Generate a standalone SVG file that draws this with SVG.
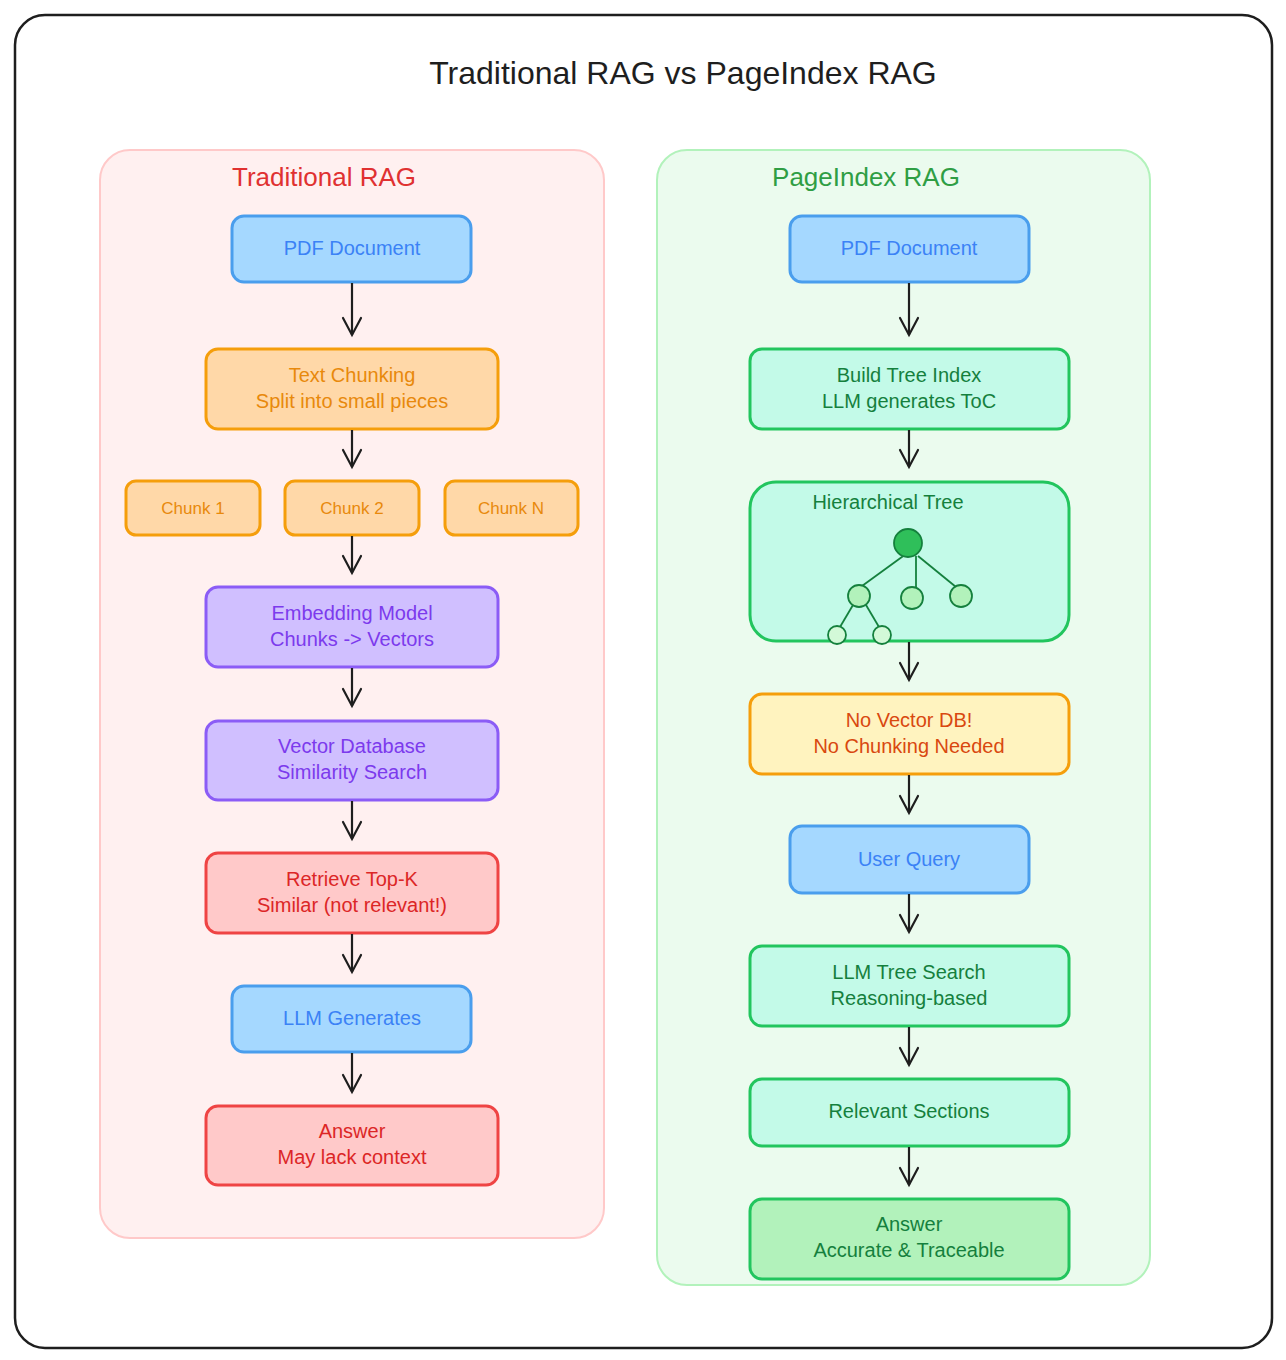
<svg xmlns="http://www.w3.org/2000/svg" width="1286" height="1360" viewBox="0 0 1286 1360">
<defs>
<style>
text{font-family:"Liberation Sans",Arial,sans-serif;text-anchor:middle;font-size:20px}
.n rect{stroke-width:3}
.blue rect{fill:#a5d8ff;stroke:#4a9eed}.blue text{fill:#3b82f6}
.org rect{fill:#ffd8a8;stroke:#f59e0b}.org text{fill:#e8890c}
.pur rect{fill:#d0bfff;stroke:#8b5cf6}.pur text{fill:#7c3aed}
.red rect{fill:#ffc9c9;stroke:#ef4444}.red text{fill:#dc2626}
.grn rect{fill:#c3fae8;stroke:#22c55e}.grn text{fill:#15803d}
.yel rect{fill:#fff3bf;stroke:#f59e0b}.yel text{fill:#d9480f}
.ans rect{fill:#b2f2bb;stroke:#22c55e}.ans text{fill:#15803d}
.c line{stroke:#1e1e1e;stroke-width:2.2}
.c path{fill:none;stroke:#1e1e1e;stroke-width:2.2;stroke-linecap:round}
</style>
</defs>
<rect x="0" y="0" width="1286" height="1360" fill="#ffffff"/>
<rect x="15" y="15" width="1257" height="1333" rx="30" fill="#ffffff" stroke="#1e1e1e" stroke-width="2.5"/>
<text x="683" y="84" style="font-size:32px;fill:#1e1e1e">Traditional RAG vs PageIndex RAG</text>

<g id="panel-left"><rect x="100" y="150" width="504" height="1088" rx="30" fill="#fff0f0" stroke="#ffc9c9" stroke-width="2"/>
<text x="324" y="186" style="font-size:26px;fill:#e03131">Traditional RAG</text></g>
<g id="panel-right"><rect x="657" y="150" width="493" height="1135" rx="30" fill="#ebfbee" stroke="#b2f2bb" stroke-width="2"/>
<text x="866" y="186" style="font-size:26px;fill:#2f9e44">PageIndex RAG</text></g>

<g id="l-pdf" class="n blue"><rect x="232" y="216" width="239" height="66" rx="12"/><text x="352" y="255">PDF Document</text></g>
<g id="l-chunking" class="n org"><rect x="206" y="349" width="292" height="80" rx="12"/><text x="352" y="382">Text Chunking</text><text x="352" y="408">Split into small pieces</text></g>
<g id="l-c1" class="n org"><rect x="126" y="481" width="134" height="54" rx="10"/><text x="193" y="514" style="font-size:17px">Chunk 1</text></g>
<g id="l-c2" class="n org"><rect x="285" y="481" width="134" height="54" rx="10"/><text x="352" y="514" style="font-size:17px">Chunk 2</text></g>
<g id="l-cn" class="n org"><rect x="445" y="481" width="133" height="54" rx="10"/><text x="511" y="514" style="font-size:17px">Chunk N</text></g>
<g id="l-embed" class="n pur"><rect x="206" y="587" width="292" height="80" rx="12"/><text x="352" y="620">Embedding Model</text><text x="352" y="646">Chunks -&gt; Vectors</text></g>
<g id="l-vdb" class="n pur"><rect x="206" y="721" width="292" height="79" rx="12"/><text x="352" y="753">Vector Database</text><text x="352" y="779">Similarity Search</text></g>
<g id="l-retrieve" class="n red"><rect x="206" y="853" width="292" height="80" rx="12"/><text x="352" y="886">Retrieve Top-K</text><text x="352" y="912">Similar (not relevant!)</text></g>
<g id="l-llm" class="n blue"><rect x="232" y="986" width="239" height="66" rx="12"/><text x="352" y="1025">LLM Generates</text></g>
<g id="l-answer" class="n red"><rect x="206" y="1106" width="292" height="79" rx="12"/><text x="352" y="1138">Answer</text><text x="352" y="1164">May lack context</text></g>

<g id="r-pdf" class="n blue"><rect x="790" y="216" width="239" height="66" rx="12"/><text x="909" y="255">PDF Document</text></g>
<g id="r-build" class="n grn"><rect x="750" y="349" width="319" height="80" rx="12"/><text x="909" y="382">Build Tree Index</text><text x="909" y="408">LLM generates ToC</text></g>
<g id="r-tree" class="n grn"><rect x="750" y="482" width="319" height="159" rx="26"/><text x="888" y="509">Hierarchical Tree</text>
<g stroke="#15803d" stroke-width="1.8">
<line x1="906" y1="554" x2="862" y2="586"/><line x1="916" y1="556" x2="916" y2="588"/><line x1="918" y1="556" x2="956" y2="587"/>
<line x1="853" y1="605" x2="840" y2="627"/><line x1="866" y1="605" x2="879" y2="627"/>
<circle cx="908" cy="543" r="14" fill="#2fbf5a"/>
<circle cx="859" cy="596" r="11" fill="#b2f2bb"/><circle cx="912" cy="598" r="11" fill="#b2f2bb"/><circle cx="961" cy="596" r="11" fill="#b2f2bb"/>
<circle cx="837" cy="635" r="9" fill="#d3f9d8"/><circle cx="882" cy="635" r="9" fill="#d3f9d8"/>
</g></g>
<g id="r-novec" class="n yel"><rect x="750" y="694" width="319" height="80" rx="12"/><text x="909" y="727">No Vector DB!</text><text x="909" y="753">No Chunking Needed</text></g>
<g id="r-query" class="n blue"><rect x="790" y="826" width="239" height="67" rx="12"/><text x="909" y="866">User Query</text></g>
<g id="r-search" class="n grn"><rect x="750" y="946" width="319" height="80" rx="12"/><text x="909" y="979">LLM Tree Search</text><text x="909" y="1005">Reasoning-based</text></g>
<g id="r-relevant" class="n grn"><rect x="750" y="1079" width="319" height="67" rx="12"/><text x="909" y="1118">Relevant Sections</text></g>
<g id="r-answer" class="n ans"><rect x="750" y="1199" width="319" height="80" rx="12"/><text x="909" y="1231">Answer</text><text x="909" y="1257">Accurate &amp; Traceable</text></g>

<g id="connectors" class="c">
<line x1="352" y1="283" x2="352" y2="335"/><path d="M343 318 L352 335 L361 318"/>
<line x1="352" y1="430" x2="352" y2="467"/><path d="M343 450 L352 467 L361 450"/>
<line x1="352" y1="536" x2="352" y2="573"/><path d="M343 556 L352 573 L361 556"/>
<line x1="352" y1="668" x2="352" y2="706"/><path d="M343 689 L352 706 L361 689"/>
<line x1="352" y1="801" x2="352" y2="839"/><path d="M343 822 L352 839 L361 822"/>
<line x1="352" y1="934" x2="352" y2="972"/><path d="M343 955 L352 972 L361 955"/>
<line x1="352" y1="1053" x2="352" y2="1092"/><path d="M343 1075 L352 1092 L361 1075"/>
<line x1="909" y1="283" x2="909" y2="335"/><path d="M900 318 L909 335 L918 318"/>
<line x1="909" y1="430" x2="909" y2="467"/><path d="M900 450 L909 467 L918 450"/>
<line x1="909" y1="642" x2="909" y2="680"/><path d="M900 663 L909 680 L918 663"/>
<line x1="909" y1="775" x2="909" y2="813"/><path d="M900 796 L909 813 L918 796"/>
<line x1="909" y1="894" x2="909" y2="932"/><path d="M900 915 L909 932 L918 915"/>
<line x1="909" y1="1027" x2="909" y2="1065"/><path d="M900 1048 L909 1065 L918 1048"/>
<line x1="909" y1="1147" x2="909" y2="1185"/><path d="M900 1168 L909 1185 L918 1168"/>
</g>
</svg>
